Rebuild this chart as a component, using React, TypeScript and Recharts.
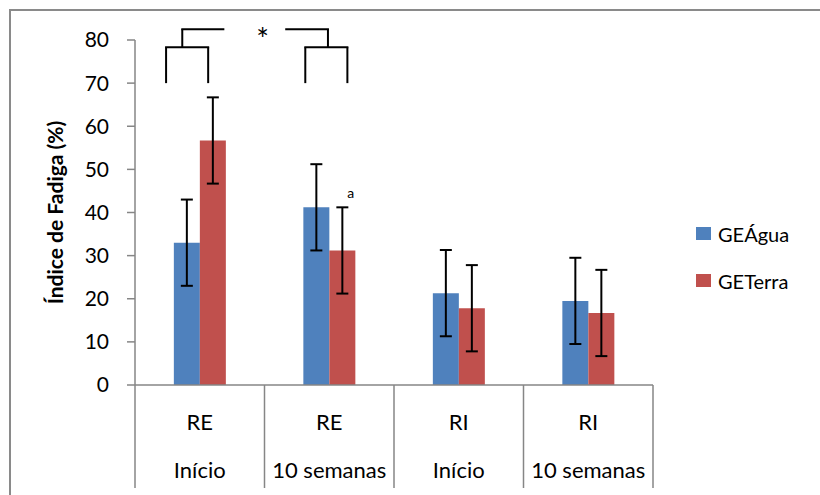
import React from 'react';
import { BarChart, Bar, XAxis, YAxis, ErrorBar } from 'recharts';

// chart values
const groups = ['RE', 'RE', 'RI', 'RI'];
const periods = ['Início', '10 semanas', 'Início', '10 semanas'];
const aguaValues = [33, 41.2, 21.3, 19.5];
const terraValues = [56.7, 31.2, 17.8, 16.7];
const aguaErrors = [10, 10, 10, 10];
const terraErrors = [10, 10, 10, 10];
const yTicks = [0, 10, 20, 30, 40, 50, 60, 70, 80];

const data = groups.map((g, i) => ({
  id: `${g} ${periods[i]}`,
  agua: aguaValues[i],
  aguaErr: aguaErrors[i],
  terra: terraValues[i],
  terraErr: terraErrors[i],
}));

const W = 820;
const H = 495;
const PLOT_LEFT = 135;
const PLOT_RIGHT = 653;
const PLOT_TOP = 40;
const PLOT_BOTTOM = 385;
const AXIS_END = 488;
const FONT = 'Lato, "Noto Sans", sans-serif';
const AXIS = '#868686';
const BLUE = '#4F81BD';
const RED = '#C0504D';

const bandWidth = (PLOT_RIGHT - PLOT_LEFT) / groups.length;
const yPx = (v: number) => PLOT_BOTTOM - (v / 80) * (PLOT_BOTTOM - PLOT_TOP);
const bx = (cat: number, frac: number) => PLOT_LEFT + bandWidth * (cat + frac);

function CategoryTick(props: any) {
  const { x, index } = props;
  const left = x - bandWidth / 2;
  return (
    <g>
      <line x1={left} x2={left} y1={PLOT_BOTTOM} y2={AXIS_END} stroke={AXIS} strokeWidth={1.5} />
      {index === groups.length - 1 && (
        <line x1={left + bandWidth} x2={left + bandWidth} y1={PLOT_BOTTOM} y2={AXIS_END} stroke={AXIS} strokeWidth={1.5} />
      )}
      <text x={x} y={430} textAnchor="middle" fontSize={22} fontFamily={FONT} fill="#000">
        {groups[index]}
      </text>
      <text x={x} y={478} textAnchor="middle" fontSize={22} fontFamily={FONT} fill="#000">
        {periods[index]}
      </text>
    </g>
  );
}

function LegendBox() {
  const items = [
    { label: 'GEÁgua', color: BLUE },
    { label: 'GETerra', color: RED },
  ];
  return (
    <div style={{ position: 'absolute', left: 696, top: 210, fontFamily: FONT, fontSize: 20, color: '#000' }}>
      {items.map((it) => (
        <div key={it.label} style={{ display: 'flex', alignItems: 'center', height: 47 }}>
          <span style={{ width: 15, height: 13, background: it.color, display: 'inline-block', marginRight: 7 }} />
          <span>{it.label}</span>
        </div>
      ))}
    </div>
  );
}

function Brackets() {
  const lowV = 70;
  const midV = 78.3;
  const topV = 82.5;
  const sw = 2;
  const l = (x1: number, y1: number, x2: number, y2: number, k: string) => (
    <line key={k} x1={x1} y1={y1} x2={x2} y2={y2} stroke="#000" strokeWidth={sw} />
  );
  const a1 = bx(0, 0.24), a2 = bx(0, 0.565), aStem = bx(0, 0.365), aEnd = bx(0, 0.69);
  const b1 = bx(1, 0.16), bStem = bx(1, 0.49), c1 = bx(1, 0.315), c2 = bx(1, 0.64);
  return (
    <svg width={W} height={H} style={{ position: 'absolute', left: 0, top: 0, pointerEvents: 'none' }}>
      {l(a1, yPx(lowV), a1, yPx(midV), 'a1')}
      {l(a2, yPx(lowV), a2, yPx(midV), 'a2')}
      {l(a1 - 1, yPx(midV), a2 + 1, yPx(midV), 'a3')}
      {l(aStem, yPx(midV), aStem, yPx(topV), 'a4')}
      {l(aStem - 1, yPx(topV), aEnd, yPx(topV), 'a5')}
      {l(b1, yPx(topV), bStem + 1, yPx(topV), 'b1')}
      {l(bStem, yPx(topV), bStem, yPx(midV), 'b2')}
      {l(c1 - 1, yPx(midV), c2 + 1, yPx(midV), 'c1')}
      {l(c1, yPx(midV), c1, yPx(lowV), 'c2')}
      {l(c2, yPx(midV), c2, yPx(lowV), 'c3')}
      <text x={bx(0, 0.985)} y={yPx(77.6)} textAnchor="middle" fontSize={30} fontFamily={FONT} fill="#000">
        *
      </text>
      <text x={bx(1, 0.665)} y={yPx(43.4)} textAnchor="middle" fontSize={14} fontFamily={FONT} fill="#000">
        a
      </text>
    </svg>
  );
}

export default function App() {
  const cy = (PLOT_TOP + PLOT_BOTTOM) / 2;
  return (
    <div style={{ position: 'absolute', left: 0, top: 0, width: W, height: H, overflow: 'hidden', background: '#fff' }}>
      <div
        style={{
          position: 'absolute',
          left: 9,
          top: 9,
          width: 1000,
          height: 1000,
          border: '2px solid #8a8a8a',
        }}
      />
      <BarChart
        width={W}
        height={H}
        data={data}
        margin={{ top: PLOT_TOP, right: W - PLOT_RIGHT, bottom: H - AXIS_END, left: 75 }}
        barCategoryGap="30%"
        barGap={0}
        style={{ position: 'absolute', left: 0, top: 0 }}
      >
        <XAxis
          dataKey="id"
          interval={0}
          height={AXIS_END - PLOT_BOTTOM}
          tickLine={false}
          axisLine={{ stroke: AXIS, strokeWidth: 1.5 }}
          tick={<CategoryTick />}
        />
        <YAxis
          width={60}
          domain={[0, 80]}
          ticks={yTicks}
          interval={0}
          tickSize={8}
          tickMargin={18}
          axisLine={{ stroke: AXIS, strokeWidth: 1.5 }}
          tickLine={{ stroke: AXIS, strokeWidth: 1.5 }}
          tick={{ fill: '#000', fontSize: 21, fontFamily: FONT }}
          label={{
            content: () => (
              <text
                x={58}
                y={cy}
                transform={`rotate(-90 58 ${cy})`}
                textAnchor="middle"
                dominantBaseline="middle"
                fontSize={21}
                fontWeight="bold"
                fontFamily={FONT}
                fill="#000"
              >
                Índice de Fadiga (%)
              </text>
            ),
          }}
        />
        <Bar dataKey="agua" name="GEÁgua" fill={BLUE} isAnimationActive={false}>
          <ErrorBar dataKey="aguaErr" width={6} stroke="#000" strokeWidth={2} />
        </Bar>
        <Bar dataKey="terra" name="GETerra" fill={RED} isAnimationActive={false}>
          <ErrorBar dataKey="terraErr" width={6} stroke="#000" strokeWidth={2} />
        </Bar>
      </BarChart>
      <LegendBox />
      <Brackets />
    </div>
  );
}
